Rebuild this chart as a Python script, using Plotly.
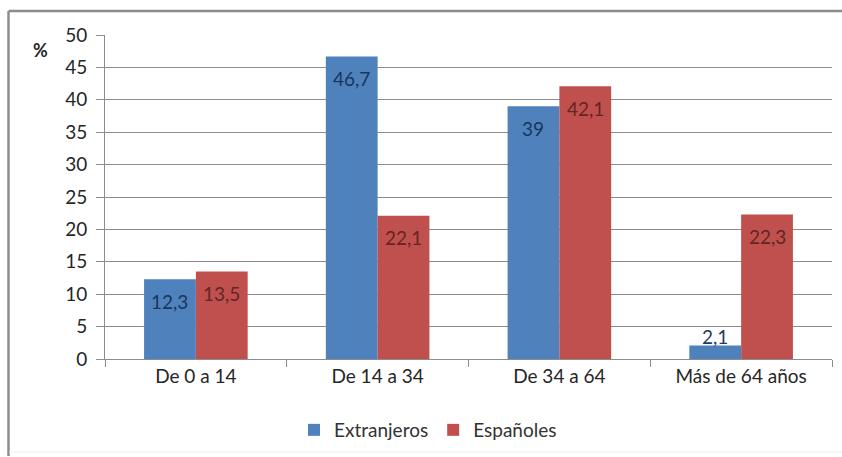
import plotly.graph_objects as go

categories = ["De 0 a 14", "De 14 a 34", "De 34 a 64", "Más de 64 años"]
extranjeros = [12.3, 46.7, 39, 2.1]
espanoles = [13.5, 22.1, 42.1, 22.3]
y_ticks = [0, 5, 10, 15, 20, 25, 30, 35, 40, 45, 50]

BLUE = "#4F81BD"
RED = "#C0504D"
BLUE_TXT = "#17375E"
RED_TXT = "#632523"
FONT = "Lato, Carlito, Calibri, sans-serif"
FS = 19

W, H = 842, 457
L, R, T, B = 105, 10, 35, 98
pw, ph = W - L - R, H - T - B


def px_x(px):
    return (px - L) / pw


def px_y(py):
    return (H - B - py) / ph


def fmt(v):
    s = f"{v:.1f}".replace(".", ",")
    return s[:-2] if s.endswith(",0") else s


fig = go.Figure()
fig.add_trace(go.Bar(name="Extranjeros", x=categories, y=extranjeros,
                     marker=dict(color=BLUE, line=dict(width=0))))
fig.add_trace(go.Bar(name="Españoles", x=categories, y=espanoles,
                     marker=dict(color=RED, line=dict(width=0))))

# value labels just inside the top of each bar (above it when the bar is short)
annotations = []
for vals, shift, color in ((extranjeros, -26, BLUE_TXT), (espanoles, 26, RED_TXT)):
    for cat, v in zip(categories, vals):
        inside = v > 6
        annotations.append(dict(
            x=cat, y=v, xref="x", yref="y", text=fmt(v), showarrow=False,
            xshift=shift, yshift=-22 if inside else 9,
            yanchor="middle", xanchor="center",
            font=dict(family=FONT, size=FS, color=color if inside else "#1F3A5F"),
        ))

annotations.append(dict(
    x=px_x(40), y=px_y(50), xref="paper", yref="paper", text="<b>%</b>",
    showarrow=False, xanchor="center", yanchor="middle",
    font=dict(family=FONT, size=18, color="#262626"),
))

# chart frame
shapes = [
    dict(type="line", xref="paper", yref="paper", x0=px_x(8.5), x1=px_x(842),
         y0=px_y(11), y1=px_y(11), line=dict(color="#8C8C8C", width=2.5)),
    dict(type="line", xref="paper", yref="paper", x0=px_x(8.5), x1=px_x(8.5),
         y0=px_y(11), y1=px_y(456), line=dict(color="#8C8C8C", width=2.5)),
    dict(type="line", xref="paper", yref="paper", x0=px_x(9), x1=px_x(842),
         y0=px_y(452), y1=px_y(452), line=dict(color="#EBEBEB", width=1)),
]

fig.update_layout(
    width=W, height=H,
    margin=dict(l=L, r=R, t=T, b=B, autoexpand=False),
    paper_bgcolor="white", plot_bgcolor="white",
    barmode="group", bargap=0.43, bargroupgap=0,
    font=dict(family=FONT, size=FS, color="#333333"),
    showlegend=True,
    legend=dict(orientation="h", xref="container", yref="container",
                x=294 / W, y=(H - 430) / H, xanchor="left", yanchor="middle",
                font=dict(family=FONT, size=FS, color="#333333"),
                itemwidth=30, tracegroupgap=0, traceorder="normal"),
    annotations=annotations,
    shapes=shapes,
)
fig.update_xaxes(
    showline=True, linecolor="#8C8C8C", linewidth=1,
    ticks="outside", tickson="boundaries", ticklen=7, tickcolor="#8C8C8C",
    showgrid=False, tickfont=dict(family=FONT, size=FS, color="#262626"),
    fixedrange=True,
)
fig.update_yaxes(
    range=[0, 50], tickvals=y_ticks, ticktext=[str(t) for t in y_ticks],
    showgrid=True, gridcolor="#8C8C8C", gridwidth=1,
    showline=True, linecolor="#8C8C8C", linewidth=1,
    ticks="outside", ticklen=8, tickcolor="#8C8C8C",
    ticklabelstandoff=5, zeroline=False,
    tickfont=dict(family=FONT, size=FS, color="#262626"),
    fixedrange=True,
)

fig.write_html("out.html")
